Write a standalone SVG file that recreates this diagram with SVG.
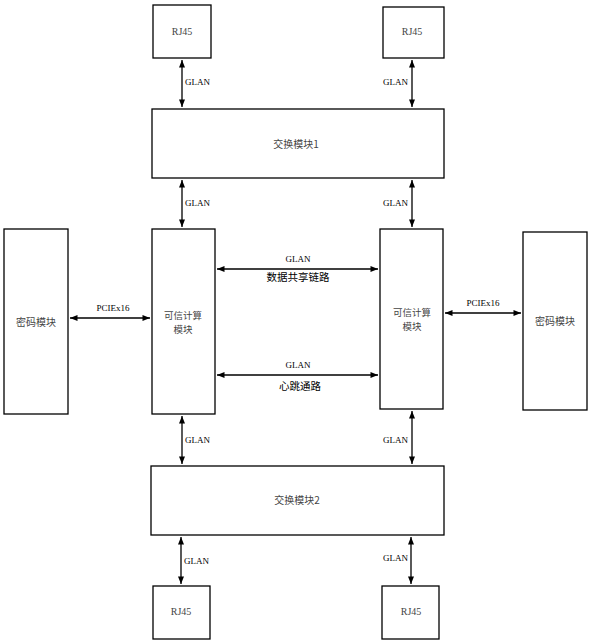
<svg xmlns="http://www.w3.org/2000/svg" width="591" height="643" viewBox="0 0 591 643">
<style>
.box{fill:#fff;stroke:#000;stroke-width:1.3}
.in{font-family:"Liberation Serif","Noto Sans CJK SC",serif;font-size:10px;fill:#444;text-anchor:middle}
.cjk{font-family:"Noto Sans CJK SC",sans-serif;font-size:10px;fill:#444;text-anchor:middle}
.cjk2{font-family:"Noto Sans CJK SC",sans-serif;font-size:9.5px;fill:#444;text-anchor:middle}
.lbl{font-family:"Liberation Serif",serif;font-size:9px;fill:#000}
.lblc{font-family:"Noto Sans CJK SC",sans-serif;font-size:10.5px;fill:#000;text-anchor:middle}
.ln{stroke:#000;stroke-width:1.3;fill:none;marker-start:url(#ah);marker-end:url(#ah)}
</style>
<defs>
<marker id="ah" viewBox="0 0 10 8" refX="10" refY="4" markerWidth="8" markerHeight="6" markerUnits="userSpaceOnUse" orient="auto-start-reverse">
<path d="M0,0 L10,4 L0,8 z" fill="#000"/>
</marker>
</defs>
<rect width="591" height="643" fill="#fff"/>
<g id="connectors">
<line class="ln" x1="182" y1="60" x2="182" y2="107"/>
<line class="ln" x1="412" y1="60" x2="412" y2="107"/>
<line class="ln" x1="182" y1="180" x2="182" y2="227"/>
<line class="ln" x1="412" y1="180" x2="412" y2="227"/>
<line class="ln" x1="70" y1="318" x2="150" y2="318"/>
<line class="ln" x1="445" y1="313" x2="521" y2="313"/>
<line class="ln" x1="217" y1="269" x2="378" y2="269"/>
<line class="ln" x1="217" y1="375" x2="378" y2="375"/>
<line class="ln" x1="182" y1="416" x2="182" y2="464"/>
<line class="ln" x1="412" y1="411" x2="412" y2="464"/>
<line class="ln" x1="181" y1="537" x2="181" y2="584"/>
<line class="ln" x1="411" y1="537" x2="411" y2="584"/>
<text class="lbl" x="185" y="85">GLAN</text>
<text class="lbl" x="408" y="85" text-anchor="end">GLAN</text>
<text class="lbl" x="185" y="206">GLAN</text>
<text class="lbl" x="408" y="206" text-anchor="end">GLAN</text>
<text class="lbl" x="113" y="311" text-anchor="middle" font-size="11">PCIEx16</text>
<text class="lbl" x="483" y="306" text-anchor="middle" font-size="11">PCIEx16</text>
<text class="lbl" x="298" y="262" text-anchor="middle">GLAN</text>
<text class="lblc" x="298" y="281">数据共享链路</text>
<text class="lbl" x="298" y="368" text-anchor="middle">GLAN</text>
<text class="lblc" x="300" y="390">心跳通路</text>
<text class="lbl" x="185" y="443">GLAN</text>
<text class="lbl" x="408" y="443" text-anchor="end">GLAN</text>
<text class="lbl" x="184" y="564">GLAN</text>
<text class="lbl" x="408" y="561" text-anchor="end">GLAN</text>
</g>
<g id="rj45-tl"><rect class="box" x="153" y="5" width="58" height="53"/><text class="in" x="182" y="35">RJ45</text></g>
<g id="rj45-tr"><rect class="box" x="383" y="7" width="61" height="51"/><text class="in" x="412" y="35">RJ45</text></g>
<g id="switch1"><rect class="box" x="152" y="109" width="292" height="69"/><text class="cjk" x="296" y="148">交换模块1</text></g>
<g id="cipher-left"><rect class="box" x="4" y="229" width="64" height="185"/><text class="cjk" x="36" y="326">密码模块</text></g>
<g id="trusted-left"><rect class="box" x="152" y="229" width="63" height="185"/><text class="cjk2" x="183" y="319">可信计算</text><text class="cjk2" x="183" y="333">模块</text></g>
<g id="trusted-right"><rect class="box" x="380" y="229" width="63" height="180"/><text class="cjk2" x="412" y="316">可信计算</text><text class="cjk2" x="412" y="330">模块</text></g>
<g id="cipher-right"><rect class="box" x="523" y="232" width="64" height="178"/><text class="cjk" x="555" y="325">密码模块</text></g>
<g id="switch2"><rect class="box" x="151" y="466" width="293" height="69"/><text class="cjk" x="297" y="504">交换模块2</text></g>
<g id="rj45-bl"><rect class="box" x="153" y="586" width="57" height="53"/><text class="in" x="181" y="615">RJ45</text></g>
<g id="rj45-br"><rect class="box" x="382" y="586" width="57" height="53"/><text class="in" x="411" y="615">RJ45</text></g>
</svg>
